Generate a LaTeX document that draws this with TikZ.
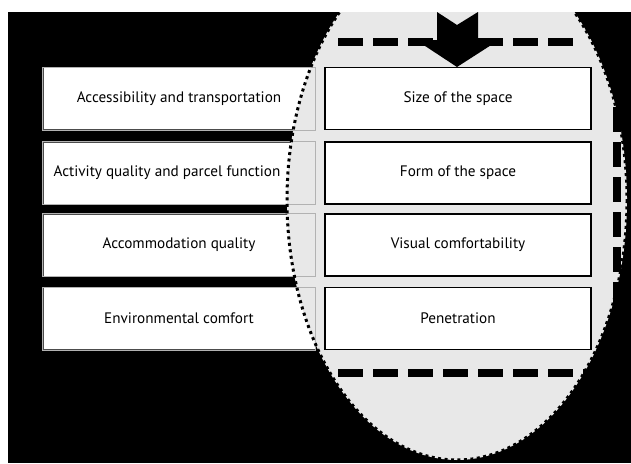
\documentclass[tikz,border=0pt]{standalone}
\usepackage{fontspec}
\setmainfont{PT Sans}
\begin{document}
\begin{tikzpicture}[x=1pt, y=-1pt,
  factor/.style={draw=gray!60!black, fill=white, line width=0.8pt,
    minimum width=272pt, minimum height=62pt, inner sep=0pt,
    font=\fontsize{15.2}{18}\selectfont},
  aspect/.style={draw=black, fill=white, line width=1.2pt,
    minimum width=266pt, minimum height=62pt, inner sep=0pt,
    font=\fontsize{15.2}{18}\selectfont},
  bar/.style={line width=8pt, dash pattern=on 25pt off 10pt}]
\useasboundingbox (0,0) rectangle (631,463);
\fill[white] (0,0) rectangle (631,463);
\fill[black] (8,12) rectangle (631,463);
  % left column
  \node[factor] (access) at (179,98.5) {Accessibility and transportation};
  \node[factor] (activity) at (179,173) {Activity quality and parcel function\hspace*{24pt}};
  \node[factor] (accommodation) at (179,245) {Accommodation quality};
  \node[factor] (environment) at (179,318.5) {Environmental comfort};
  % the oval
  \begin{scope}
    \clip (8,12) rectangle (631,463);
    \fill[gray!18] (457,200) ellipse [x radius=170, y radius=260];
    \foreach \n in {access,activity,accommodation,environment}
      \draw[gray!60, line width=0.8pt] (\n.south west) rectangle (\n.north east);
    \draw[line width=3pt, dash pattern=on 3pt off 3.5pt]
      (457,200) ellipse [x radius=170, y radius=260];
  \end{scope}
  % dashed frame
  \draw[bar] (338,42) -- (580,42);
  \draw[bar] (338,373) -- (612,373);
  \draw[bar] (617,107) -- (617,310);
  % arrow
  \fill (437,12) -- (457,25) -- (478,12) -- (478,40) -- (499,40)
    -- (457,67) -- (416,40) -- (437,40) -- cycle;
  % right column
  \node[aspect] (size) at (458,98.5) {Size of the space};
  \node[aspect] (form) at (458,173) {Form of the space};
  \node[aspect] (visual) at (458,245) {Visual comfortability};
  \node[aspect] (penetration) at (458,318.5) {Penetration};
\end{tikzpicture}
\end{document}
